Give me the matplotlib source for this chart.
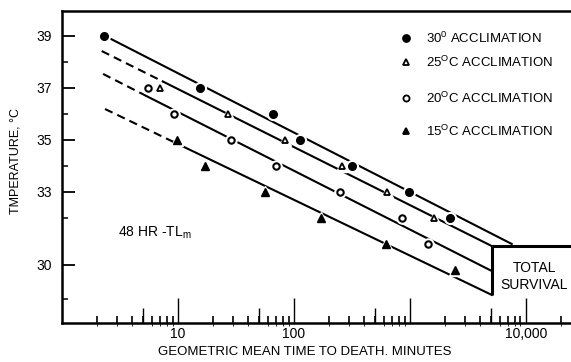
import matplotlib
matplotlib.use("Agg")
import matplotlib.pyplot as plt
from matplotlib.ticker import FixedLocator, NullFormatter

plt.rcParams["font.family"] = ["Liberation Sans", "DejaVu Sans"]

# --- data (time in minutes, temperature in deg C) ---
t30 = [2.3, 15.5, 66, 113, 316, 980, 2240]
T30 = [39, 37, 36, 35, 34, 33, 32]
t25 = [7.0, 27, 84, 260, 630, 1610]
T25 = [37, 36, 35, 34, 33, 32]
t20 = [5.5, 9.2, 28.6, 70, 250, 850, 1430]
T20 = [37, 36, 35, 34, 33, 32, 31]
t15 = [9.8, 17, 56, 170, 620, 2450]
T15 = [35, 34, 33, 32, 31, 30]

# regression lines: start, end of dashed part, end
line30_t = [2.55, 7570]
line30_T = [38.92, 31.0]
line25_t = [2.2, 7.4, 5090]
line25_T = [38.42, 37.25, 30.92]
line20_t = [2.26, 5.4, 5090]
line20_T = [37.54, 36.68, 29.96]
line15_t = [2.35, 9.1, 5090]
line15_T = [36.19, 34.93, 29.04]

# total survival boundary
surv_t = 5090
surv_T = [29.04, 30.92]

x_lim = (1, 10 ** 4.39)
y_lim = (27.96, 39.96)
y_major = [39, 37, 35, 33, 30.2]
y_labels = ["39", "37", "35", "33", "30"]
y_minor = [38, 36, 34, 32, 28.9]
x_major = [10, 100, 1000, 10000]
x_labels = ["10", "100", "", "10,000"]
x_mid = [5, 50, 500, 5000]

fig = plt.figure(figsize=(5.71, 3.62), dpi=100)
ax = fig.add_axes([62 / 571, 1 - 323 / 362, 1 - 62 / 571, 312 / 362])
ax.set_xscale("log")
ax.set_xlim(*x_lim)
ax.set_ylim(*y_lim)

lw = 1.5
ax.plot(line30_t, line30_T, color="black", lw=lw)
for lt, lT in [(line25_t, line25_T), (line20_t, line20_T), (line15_t, line15_T)]:
    ax.plot(lt[:2], lT[:2], color="black", lw=lw, dashes=(4, 2.5))
    ax.plot(lt[1:], lT[1:], color="black", lw=lw)

ax.plot([surv_t, surv_t], surv_T, color="black", lw=2.2, solid_capstyle="butt")
ax.plot([surv_t, x_lim[1]], [surv_T[1], surv_T[1]], color="black", lw=2.2,
        solid_capstyle="butt", clip_on=False)

mk = dict(linestyle="none", markeredgecolor="black", zorder=4)
halo = dict(linestyle="none", color="white", zorder=3)
ax.plot(t30, T30, marker="o", ms=8.5, **halo)
ax.plot(t30, T30, marker="o", ms=5.5, markerfacecolor="black", **mk)
ax.plot(t25, T25, marker="^", ms=8.5, **halo)
ax.plot(t25, T25, marker="^", ms=5, markerfacecolor="white", mew=1.3, **mk)
ax.plot(t20, T20, marker="o", ms=8, **halo)
ax.plot(t20, T20, marker="o", ms=4.6, markerfacecolor="white", mew=1.5, **mk)
ax.plot(t15, T15, marker="^", ms=8.5, **halo)
ax.plot(t15, T15, marker="^", ms=5.5, markerfacecolor="black", **mk)

ax.text(11800, 29.75, "TOTAL\nSURVIVAL", ha="center", va="center",
        fontsize=10, linespacing=1.25)
ax.text(3.04, 31.42, r"48 HR -TL$_\mathregular{m}$", ha="left", va="center",
        fontsize=10)

# spines
ax.spines["right"].set_visible(False)
for s in ["left", "bottom", "top"]:
    ax.spines[s].set_linewidth(1.8)

# ticks
ax.yaxis.set_major_locator(FixedLocator(y_major))
ax.set_yticklabels(y_labels)
ax.yaxis.set_minor_locator(FixedLocator(y_minor))
ax.tick_params(axis="y", which="major", direction="in", length=9, width=1.3,
               pad=7, labelsize=10)
ax.tick_params(axis="y", which="minor", direction="in", length=4.5, width=1.1)

ax.xaxis.set_major_locator(FixedLocator(x_major))
ax.set_xticklabels(x_labels)
ax.xaxis.set_minor_formatter(NullFormatter())
ax.tick_params(axis="x", which="major", direction="in", length=18, width=1.0,
               pad=3, labelsize=10)
ax.tick_params(axis="x", which="minor", direction="in", length=5, width=1.2)

sec = ax.secondary_xaxis("bottom")
sec.set_xticks(x_mid)
sec.set_xticklabels([""] * len(x_mid))
sec.tick_params(direction="in", length=11, width=1.0)
sec.spines["bottom"].set_visible(False)

# axis labels
fig.text(305 / 571, 1 - 352 / 362, "GEOMETRIC MEAN TIME TO DEATH. MINUTES",
         ha="center", va="center", fontsize=9.5)
fig.text(16 / 571, 1 - 161 / 362, "TMPERATURE, \u00b0C", rotation=90,
         ha="center", va="center", fontsize=9)

# legend
leg_markers = [("o", "black", 5), ("^", "white", 4.6), ("o", "white", 4.4), ("^", "black", 5)]
leg_labels = [r"30$^\mathregular{0}$ ACCLIMATION",
              r"25$^\mathregular{O}$C ACCLIMATION",
              r"20$^\mathregular{O}$C ACCLIMATION",
              r"15$^\mathregular{O}$C ACCLIMATION"]
leg_rows = [38, 62, 98, 131]
for (m, fc, ms), lab, yr in zip(leg_markers, leg_labels, leg_rows):
    fy = 1 - yr / 362
    fig.lines.append(plt.Line2D([406 / 571], [fy], marker=m, ms=ms,
                                markerfacecolor=fc, markeredgecolor="black",
                                mew=1.3, linestyle="none",
                                transform=fig.transFigure))
    fig.text(426 / 571, fy, lab, ha="left", va="center", fontsize=9.5)

fig.savefig("out.png", dpi=100)
